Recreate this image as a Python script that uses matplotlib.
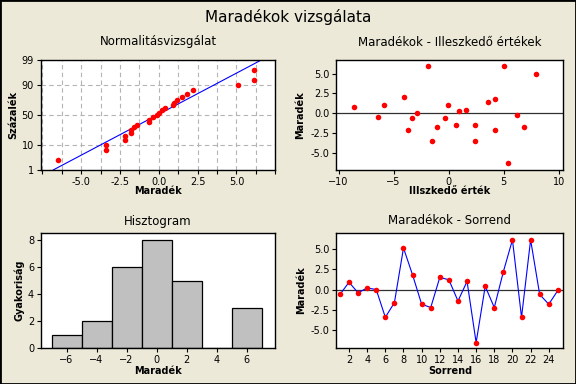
from statistics import NormalDist

import matplotlib
matplotlib.use("Agg")
import matplotlib.pyplot as plt
import numpy as np
from matplotlib.patches import Rectangle
from matplotlib.ticker import MultipleLocator, FixedLocator, FormatStrFormatter

# residuals in run order
order = list(range(1, 26))
residuals = [-0.6, 0.9, -0.4, 0.2, 0.0, -3.4, -1.6, 5.1, 1.8, -1.8, -2.2, 1.5, 1.2,
             -1.4, 1.0, -6.5, 0.4, -2.2, 2.2, 6.1, -3.4, 6.1, -0.6, -1.8, -0.1]

# normal probability plot (percent positions)
percent = [2.8, 6.7, 10.6, 14.6, 18.5, 22.4, 26.4, 30.3, 34.3, 38.2, 42.1, 46.1, 50.0,
           53.9, 57.9, 61.8, 65.7, 69.7, 73.6, 77.6, 81.5, 85.4, 89.4, 93.3, 97.2]
fit_x = [-6.8, 6.6]
fit_pct = [1, 99]

# residuals vs fitted
fitted = [-8.6, -6.4, -5.9, -4.1, -3.7, -3.3, -2.9, -1.9, -1.5, -1.1, -0.3, -0.1, 0.7,
          0.9, 1.6, 2.4, 2.4, 3.6, 4.2, 4.2, 5.0, 5.4, 6.2, 6.8, 7.9]
resid_fit = [0.75, -0.4, 1.0, 2.1, -2.1, -0.6, 0.0, 5.9, -3.4, -1.75, -0.6, 1.1, -1.5,
             0.25, 0.4, -1.4, -3.4, 1.4, 1.75, -2.1, 5.9, -6.25, -0.25, -1.75, 4.9]

hist_bins = [-7, -5, -3, -1, 1, 3, 5, 7]

BG = "#ECE9D8"
W, H = 576, 384
plt.rcParams["font.family"] = "DejaVu Sans"

fig = plt.figure(figsize=(W / 100, H / 100), dpi=100, facecolor=BG)
fig.patches.append(Rectangle((0, 0), 1, 1, transform=fig.transFigure, fill=False,
                             edgecolor="black", linewidth=2))


def box(l, t, r, b):
    return [l / W, 1 - b / H, (r - l) / W, (b - t) / H]


def ftext(x, y, s, **kw):
    fig.text(x / W, 1 - y / H, s, ha="center", va="center", **kw)


def style(ax):
    ax.set_facecolor("white")
    for sp in ax.spines.values():
        sp.set_color("black")
        sp.set_linewidth(1)
    ax.tick_params(which="major", length=3, width=0.8, labelsize=7, pad=2)
    ax.tick_params(which="minor", length=0)


ftext(288, 17, "Maradékok vizsgálata", fontsize=11)

# --- normal probability plot
nd = NormalDist()
_ppf = np.vectorize(lambda v: nd.inv_cdf(v / 100), otypes=[float])
_cdf = np.vectorize(lambda v: nd.cdf(v) * 100, otypes=[float])


def fwd(p):
    p = np.clip(np.asarray(p, dtype=float), 1e-9, 100 - 1e-9)
    return _ppf(p)


def inv(z):
    return _cdf(np.asarray(z, dtype=float))


ax1 = fig.add_axes(box(40.7, 60, 275.3, 170))
style(ax1)
ax1.set_yscale("function", functions=(fwd, inv))
ax1.set_ylim(1, 99)
ax1.set_xlim(-7.6, 7.5)
ax1.set_yticks([1, 10, 50, 90, 99])
ax1.set_yticklabels(["1", "10", "50", "90", "99"])
ax1.yaxis.set_minor_locator(plt.NullLocator())
ax1.xaxis.set_major_locator(FixedLocator([-5, -2.5, 0, 2.5, 5]))
ax1.xaxis.set_minor_locator(FixedLocator([-7.5, -6.25, -3.75, -1.25, 1.25, 3.75, 6.25, 7.5]))
ax1.xaxis.set_major_formatter(FormatStrFormatter("%.1f"))
ax1.tick_params(axis="x", which="minor", length=3, width=0.8)
ax1.grid(True, which="both", axis="x", color="#b4b4b4", linestyle=(0, (4, 3)), linewidth=0.8)
ax1.grid(True, which="major", axis="y", color="#b4b4b4", linestyle=(0, (4, 3)), linewidth=0.8)
ax1.set_axisbelow(True)
ax1.plot(fit_x, fit_pct, color="blue", linewidth=0.8)
ax1.plot(sorted(residuals), percent, "o", color="red", markersize=4, markeredgewidth=0)
ftext(158, 42, "Normalitásvizsgálat", fontsize=8.5)
ftext(158, 191, "Maradék", fontsize=7, fontweight="bold")
ftext(13, 115, "Százalék", fontsize=7, fontweight="bold", rotation=90)

# --- residuals vs fitted
ax2 = fig.add_axes(box(336.3, 60, 563.3, 170))
style(ax2)
ax2.axhline(0, color="#303030", linewidth=0.9)
ax2.plot(fitted, resid_fit, "o", color="red", markersize=4, markeredgewidth=0)
ax2.set_xlim(-10.2, 10.4)
ax2.set_ylim(-7.1, 6.7)
ax2.set_xticks([-10, -5, 0, 5, 10])
ax2.yaxis.set_major_locator(MultipleLocator(2.5))
ax2.yaxis.set_major_formatter(FormatStrFormatter("%.1f"))
ftext(450, 42, "Maradékok - Illeszkedő értékek", fontsize=8.5)
ftext(450, 191, "Illszkedő érték", fontsize=7, fontweight="bold")
ftext(300, 115, "Maradék", fontsize=7, fontweight="bold", rotation=90)

# --- histogram
ax3 = fig.add_axes(box(41, 233.3, 275.3, 348.3))
style(ax3)
ax3.hist(residuals, bins=hist_bins, color="#c0c0c0", edgecolor="black", linewidth=0.9)
ax3.set_xlim(-7.7, 7.9)
ax3.set_ylim(0, 8.5)
ax3.set_xticks([-6, -4, -2, 0, 2, 4, 6])
ax3.set_yticks([0, 2, 4, 6, 8])
ftext(158, 221, "Hisztogram", fontsize=8.5)
ftext(158, 371, "Maradék", fontsize=7, fontweight="bold")
ftext(19, 290, "Gyakoriság", fontsize=7, fontweight="bold", rotation=90)

# --- residuals vs order
ax4 = fig.add_axes(box(336.3, 233.3, 563.3, 348.3))
style(ax4)
ax4.axhline(0, color="#303030", linewidth=0.9)
ax4.plot(order, residuals, color="blue", linewidth=0.8)
ax4.plot(order, residuals, "o", color="red", markersize=4, markeredgewidth=0)
ax4.set_xlim(0.6, 25.6)
ax4.set_ylim(-7.2, 6.9)
ax4.set_xticks(range(2, 25, 2))
ax4.yaxis.set_major_locator(MultipleLocator(2.5))
ax4.yaxis.set_major_formatter(FormatStrFormatter("%.1f"))
ftext(450, 221, "Maradékok - Sorrend", fontsize=8.5)
ftext(450, 371, "Sorrend", fontsize=7, fontweight="bold")
ftext(301, 290, "Maradék", fontsize=7, fontweight="bold", rotation=90)

fig.savefig("out.png", dpi=100, facecolor=BG)
